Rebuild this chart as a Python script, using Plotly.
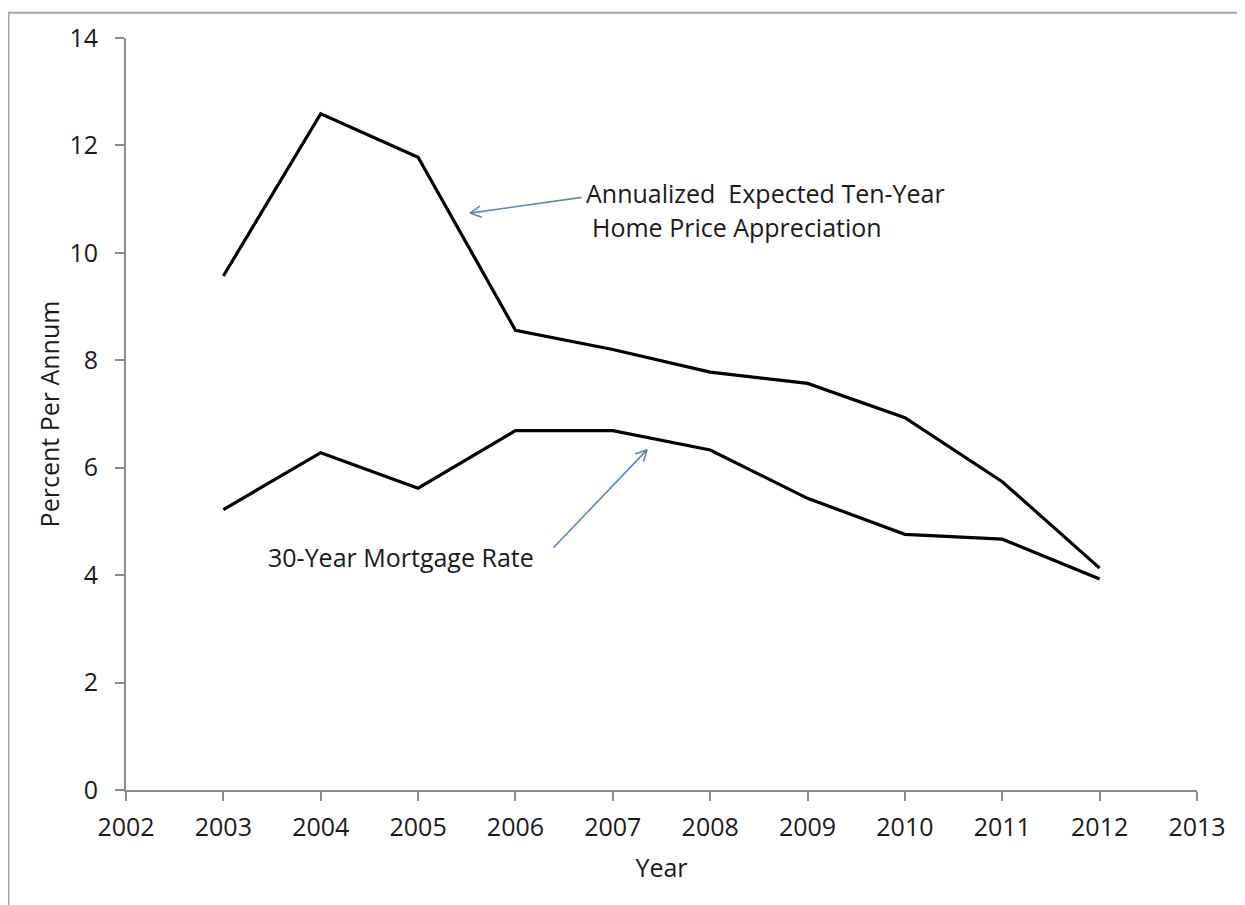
import math
import plotly.graph_objects as go

years = [2003, 2004, 2005, 2006, 2007, 2008, 2009, 2010, 2011, 2012]
home_price_appreciation = [9.57, 12.59, 11.78, 8.56, 8.20, 7.78, 7.57, 6.93, 5.74, 4.13]
mortgage_rate = [5.22, 6.28, 5.62, 6.69, 6.69, 6.33, 5.43, 4.76, 4.67, 3.93]
x_ticks = list(range(2002, 2014))
y_ticks = [0, 2, 4, 6, 8, 10, 12, 14]

FONT = "Open Sans"
FS = 25
AXIS_COL = "#8c8c8c"
ARROW_COL = "#5b86c0"
TXT_COL = "#1a1a1a"

# page body has an 8px margin; size the figure so that it fits the window
W, H = 1237, 897
ML, MR, MT, MB = 118, 48, 26, 115
PW, PH = W - ML - MR, H - MT - MB
X0, X1, Y0, Y1 = 2002, 2013, 0, 14
px_x = PW / (X1 - X0)
px_y = PH / (Y1 - Y0)

fig = go.Figure()
fig.add_trace(go.Scatter(x=years, y=home_price_appreciation, mode="lines",
                         line=dict(color="black", width=3.2), showlegend=False))
fig.add_trace(go.Scatter(x=years, y=mortgage_rate, mode="lines",
                         line=dict(color="black", width=3.2), showlegend=False))

# annotation arrows: (tail, head) in data units, drawn with open "V" heads
arrows = [((2006.694, 11.037), (2005.533, 10.74)),
          ((2006.375, 4.481), (2007.351, 6.333))]
for (tx, ty), (hx, hy) in arrows:
    fig.add_annotation(x=hx, y=hy, ax=tx, ay=ty, xref="x", yref="y", axref="x", ayref="y",
                       text="", showarrow=True, arrowhead=0, arrowwidth=1.6,
                       arrowcolor=ARROW_COL, standoff=0, startstandoff=0)
    dx = (tx - hx) * px_x
    dy = -(ty - hy) * px_y
    n = math.hypot(dx, dy)
    ux, uy = dx / n, dy / n
    for s in (1, -1):
        a = math.radians(27) * s
        wx = ux * math.cos(a) - uy * math.sin(a)
        wy = ux * math.sin(a) + uy * math.cos(a)
        fig.add_annotation(x=hx, y=hy, ax=wx * 14, ay=wy * 14, xref="x", yref="y",
                           text="", showarrow=True, arrowhead=0, arrowwidth=1.6,
                           arrowcolor=ARROW_COL, standoff=0, startstandoff=0)

fig.add_annotation(x=2006.70, y=11.12, xref="x", yref="y", text="Annualized\u00a0 Expected Ten-Year",
                   showarrow=False, xanchor="left", yanchor="middle",
                   font=dict(family=FONT, size=FS, color=TXT_COL))
fig.add_annotation(x=2006.77, y=10.48, xref="x", yref="y", text="Home Price Appreciation",
                   showarrow=False, xanchor="left", yanchor="middle",
                   font=dict(family=FONT, size=FS, color=TXT_COL))
fig.add_annotation(x=2003.44, y=4.33, xref="x", yref="y", text="30-Year Mortgage Rate",
                   showarrow=False, xanchor="left", yanchor="middle",
                   font=dict(family=FONT, size=FS, color=TXT_COL))

# outer chart border
fig.add_shape(type="rect", xref="paper", yref="paper",
              x0=(0.5 - ML) / PW, x1=1.2, y0=-0.3, y1=1 + (MT - 0.5) / PH,
              line=dict(color="#a6a6a6", width=2), fillcolor="rgba(0,0,0,0)", layer="below")

fig.update_layout(
    width=W, height=H,
    margin=dict(l=ML, r=MR, t=MT, b=MB),
    paper_bgcolor="white", plot_bgcolor="white",
    font=dict(family=FONT, size=FS, color=TXT_COL),
    xaxis=dict(range=[X0, X1], tickvals=x_ticks, showgrid=False, zeroline=False,
               showline=True, linecolor=AXIS_COL, linewidth=2,
               ticks="outside", ticklen=9, tickcolor=AXIS_COL, tickwidth=2,
               ticklabelstandoff=5,
               title=dict(text="Year", font=dict(family=FONT, size=FS), standoff=17)),
    yaxis=dict(range=[Y0, Y1], tickvals=y_ticks, showgrid=False, zeroline=False,
               showline=True, linecolor=AXIS_COL, linewidth=2,
               ticks="outside", ticklen=9, tickcolor=AXIS_COL, tickwidth=2,
               ticklabelstandoff=12,
               title=dict(text="Percent Per Annum", font=dict(family=FONT, size=FS), standoff=3)),
)

fig.write_html("out.html")
